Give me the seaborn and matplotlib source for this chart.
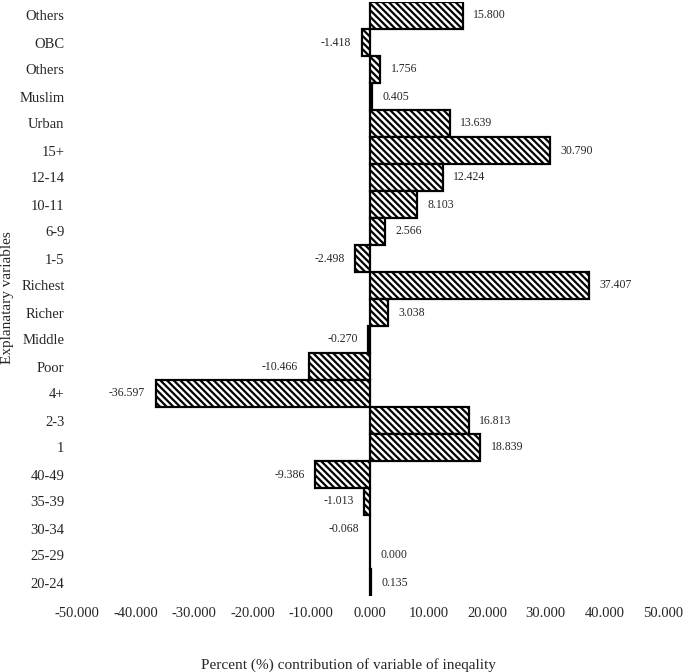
import matplotlib
matplotlib.use("Agg")
import matplotlib.pyplot as plt
import seaborn as sns
import pandas as pd

labels = ["Others", "OBC", "Others", "Muslim", "Urban", "15+", "12-14", "10-11",
          "6-9", "1-5", "Richest", "Richer", "Middle", "Poor", "4+", "2-3", "1",
          "40-49", "35-39", "30-34", "25-29", "20-24"]
values = [15.800, -1.418, 1.756, 0.405, 13.639, 30.790, 12.424, 8.103,
          2.566, -2.498, 37.407, 3.038, -0.270, -10.466, -36.597, 16.813, 18.839,
          -9.386, -1.013, -0.068, 0.000, 0.135]
xticks = [-50, -40, -30, -20, -10, 0, 10, 20, 30, 40, 50]

sns.set_style("white")
plt.rcParams["font.family"] = ["Liberation Serif", "DejaVu Serif"]
plt.rcParams["hatch.linewidth"] = 1.6

df = pd.DataFrame({"key": [f"k{i}" for i in range(len(labels))],
                   "label": labels, "value": values})

fig = plt.figure(figsize=(6.85, 6.72), dpi=100)
ax = fig.add_axes([77/685, 1-596/672, (663-77)/685, (596-2)/672])

sns.barplot(data=df, y="key", x="value", orient="h", width=1.0, color="white",
            edgecolor="black", linewidth=1.6, hatch="\\" * 5, ax=ax,
            saturation=1, errorbar=None)
for p in ax.patches:
    p.set_facecolor("white")

ax.set_xlim(-50, 50)
ax.set_xticks(xticks)
ax.set_xticklabels([f"{t:.3f}" for t in xticks], fontsize=10.5)
ax.set_yticks(range(len(labels)))
ax.set_yticklabels(labels, fontsize=10.5)
ax.tick_params(axis="both", length=0)
ax.tick_params(axis="y", pad=9)
ax.tick_params(axis="x", pad=8)
ax.set_xlabel("")
ax.set_ylabel("")
for s in ax.spines.values():
    s.set_visible(False)

for i, v in enumerate(values):
    if v >= 0:
        ax.annotate(f"{v:.3f}", (v, i), xytext=(7.5, 0), textcoords="offset points",
                    ha="left", va="center", fontsize=8.5)
    else:
        ax.annotate(f"{v:.3f}", (v, i), xytext=(-7.5, 0), textcoords="offset points",
                    ha="right", va="center", fontsize=8.5)

fig.text(348/685, 1-665/672, "Percent (%) contribution of variable of ineqality",
         ha="center", va="center", fontsize=11)
fig.text(8/685, 1-298/672, "Explanatary variables", rotation=90,
         ha="center", va="center", fontsize=11)

fig.savefig("out.png", dpi=100)
